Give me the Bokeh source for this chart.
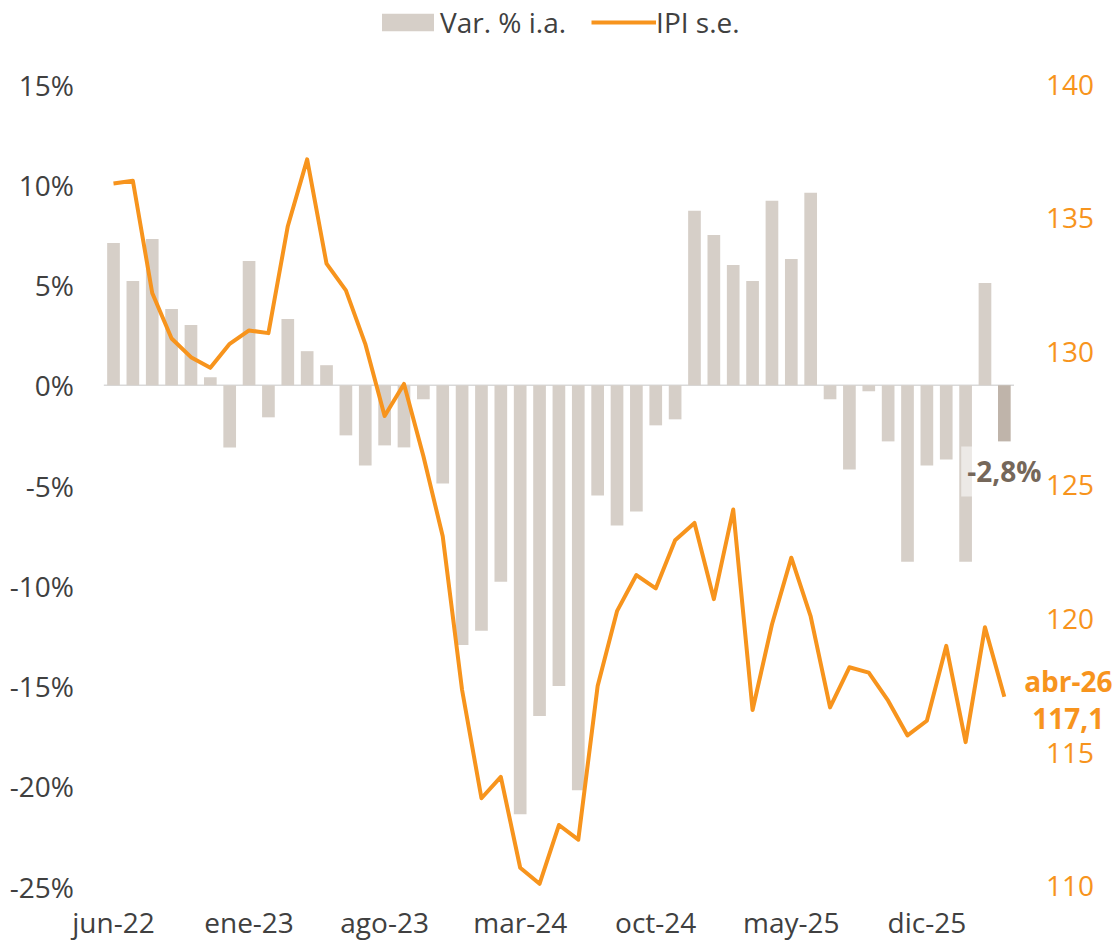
from bokeh.plotting import figure
from bokeh.models import (Range1d, LinearAxis, FixedTicker, PrintfTickFormatter,
                          Legend, LegendItem, Label, ColumnDataSource)
from bokeh.embed import file_html
from bokeh.resources import INLINE

# ---------------- data ----------------
months = ["jun-22", "jul-22", "ago-22", "sep-22", "oct-22", "nov-22", "dic-22",
          "ene-23", "feb-23", "mar-23", "abr-23", "may-23", "jun-23", "jul-23",
          "ago-23", "sep-23", "oct-23", "nov-23", "dic-23",
          "ene-24", "feb-24", "mar-24", "abr-24", "may-24", "jun-24", "jul-24",
          "ago-24", "sep-24", "oct-24", "nov-24", "dic-24",
          "ene-25", "feb-25", "mar-25", "abr-25", "may-25", "jun-25", "jul-25",
          "ago-25", "sep-25", "oct-25", "nov-25", "dic-25",
          "ene-26", "feb-26", "mar-26", "abr-26"]

var_ia = [7.1, 5.2, 7.3, 3.8, 3.0, 0.4, -3.1, 6.2, -1.6, 3.3, 1.7, 1.0,
          -2.5, -4.0, -3.0, -3.1, -0.7, -4.9, -12.95, -12.25, -9.8, -21.4,
          -16.5, -15.0, -20.2, -5.5, -7.0, -6.3, -2.0, -1.7, 8.7, 7.5, 6.0,
          5.2, 9.2, 6.3, 9.6, -0.7, -4.2, -0.3, -2.8, -8.8, -4.0, -3.7, -8.8,
          5.1, -2.8]

ipi = [136.3, 136.4, 132.2, 130.5, 129.8, 129.4, 130.3, 130.8, 130.7, 134.7,
       137.2, 133.3, 132.3, 130.3, 127.6, 128.8, 126.1, 123.1, 117.35, 113.3,
       114.1, 110.7, 110.1, 112.3, 111.75, 117.5, 120.3, 121.65, 121.15,
       122.95, 123.6, 120.75, 124.1, 116.6, 119.8, 122.3, 120.1, 116.7, 118.2,
       118.0, 116.95, 115.65, 116.2, 119.0, 115.4, 119.7, 117.1]

x_label_idx = [0, 7, 14, 21, 28, 35, 42]
left_ticks = [-25, -20, -15, -10, -5, 0, 5, 10, 15]
right_ticks = [110, 115, 120, 125, 130, 135, 140]

# ---------------- style / layout ----------------
FONT = "Open Sans"
BAR = "#D6CFC8"
BAR_LAST = "#BFB4AA"
ORANGE = "#F7941D"
GREY = "#404040"
LBL_DARK = "#75675A"
FS = "28px"

W, H = 1117, 944
FIRST_BAR_PX = 113.0      # centre of first bar from left edge
PX_MONTH = 19.366         # px per month
PX_PCT = 20.05            # px per 1 % on left axis
PX_IPI = 26.733           # px per 1 index point on right axis
TOP_GAP = 84              # px from top edge to top tick

n = len(months)
xs = list(range(n))
src = ColumnDataSource(dict(x=xs, var=var_ia, ipi=ipi,
                            color=[BAR] * (n - 1) + [BAR_LAST]))

x0 = -FIRST_BAR_PX / PX_MONTH
x1 = x0 + W / PX_MONTH
yl_top = left_ticks[-1] + TOP_GAP / PX_PCT
yl_bot = yl_top - H / PX_PCT
yr_top = right_ticks[-1] + TOP_GAP / PX_IPI
yr_bot = yr_top - H / PX_IPI

p = figure(width=W, height=H, output_backend="svg", toolbar_location=None,
           x_range=Range1d(x0, x1), y_range=Range1d(yl_bot, yl_top),
           min_border_left=0, min_border_right=0,
           min_border_top=0, min_border_bottom=0)
p.extra_y_ranges = {"ipi": Range1d(yr_bot, yr_top)}
p.grid.visible = False
p.outline_line_color = None
p.background_fill_color = "white"
p.border_fill_color = "white"


def style_axis(ax, color, standoff):
    ax.axis_line_color = None
    ax.major_tick_line_color = None
    ax.minor_tick_line_color = None
    ax.major_tick_out = 0
    ax.major_tick_in = 0
    ax.minor_tick_out = 0
    ax.minor_tick_in = 0
    ax.major_label_text_font = FONT
    ax.major_label_text_font_size = FS
    ax.major_label_text_color = color
    ax.major_label_standoff = standoff


# left axis at the left end of the bar series
ya = p.yaxis[0]
ya.fixed_location = xs[0] - 0.5
ya.ticker = FixedTicker(ticks=left_ticks)
ya.formatter = PrintfTickFormatter(format="%d%%")
style_axis(ya, GREY, 30)

# right axis at the right end of the bar series
ra = LinearAxis(y_range_name="ipi", ticker=FixedTicker(ticks=right_ticks),
                fixed_location=xs[-1] + 0.5)
style_axis(ra, ORANGE, 32)
p.add_layout(ra, "right")

# bottom axis at the lowest left tick
xa = p.xaxis[0]
xa.fixed_location = left_ticks[0]
xa.ticker = FixedTicker(ticks=x_label_idx)
xa.major_label_overrides = {i: months[i] for i in x_label_idx}
style_axis(xa, GREY, 16)

# zero line across the bar series
p.segment(x0=[xs[0] - 0.5], x1=[xs[-1] + 0.5], y0=[0], y1=[0],
          line_color="#D9D9D9", line_width=1.5)

bars = p.vbar(x="x", top="var", width=0.655, fill_color="color",
              line_color=None, source=src)
line = p.line(x="x", y="ipi", y_range_name="ipi", line_color=ORANGE,
              line_width=4, line_join="round", source=src)

# data labels
last_var = f"{var_ia[-1]:.1f}%".replace(".", ",")
p.add_layout(Label(x=xs[-1], y=var_ia[-1], y_offset=-30, text=last_var,
                   text_align="center", text_baseline="middle",
                   text_font=FONT, text_font_size=FS, text_font_style="bold",
                   text_color=LBL_DARK, background_fill_color="white",
                   background_fill_alpha=0.55, padding=6))
p.add_layout(Label(x=xs[-1], y=ipi[-1], y_range_name="ipi", x_offset=64,
                   y_offset=16, text=months[-1], text_align="center",
                   text_baseline="middle", text_font=FONT, text_font_size=FS,
                   text_font_style="bold", text_color=ORANGE))
p.add_layout(Label(x=xs[-1], y=ipi[-1], y_range_name="ipi", x_offset=64,
                   y_offset=-22, text=f"{ipi[-1]:.1f}".replace(".", ","),
                   text_align="center", text_baseline="middle",
                   text_font=FONT, text_font_size=FS, text_font_style="bold",
                   text_color=ORANGE))

legend = Legend(items=[LegendItem(label="Var. % i.a.", renderers=[bars]),
                       LegendItem(label="IPI s.e.", renderers=[line])],
                orientation="horizontal", location=(375, 903),
                glyph_width=65, glyph_height=22, label_standoff=0, spacing=25,
                padding=0, margin=0, border_line_color=None,
                background_fill_alpha=0,
                label_text_font=FONT, label_text_font_size=FS,
                label_text_color=GREY)
p.add_layout(legend)

open("out.html", "w").write(file_html(p, INLINE))
